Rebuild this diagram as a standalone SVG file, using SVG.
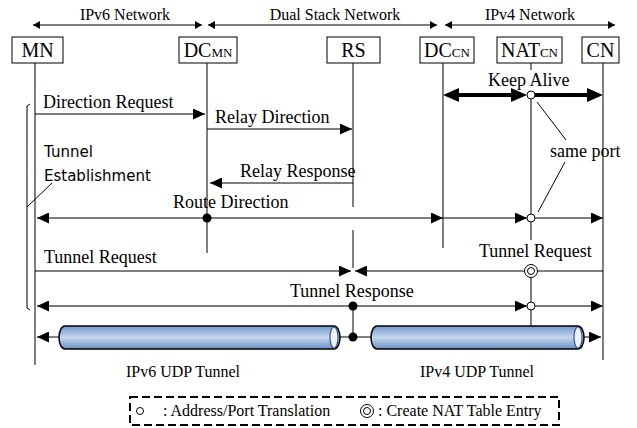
<svg xmlns="http://www.w3.org/2000/svg" width="637" height="428" viewBox="0 0 637 428">
<style>
.t{font-family:"Liberation Serif","Times New Roman",serif;fill:#000}
.h{font-size:16px}
.m{font-size:18px}
.b{font-size:20px}
.s{font-size:13px}
.g{font-family:"DejaVu Sans",sans-serif;font-size:15px;fill:#000}
.box{fill:#fff;stroke:#000;stroke-width:1}
.ln{stroke:#000;stroke-width:1;fill:none}
.msg{stroke:#000;stroke-width:1;fill:none;marker-end:url(#ah)}
.gray{stroke:#7a7a7a;stroke-width:2;fill:none;marker-end:url(#ah)}
.hd{stroke:#000;stroke-width:1;fill:none;marker-start:url(#ahs);marker-end:url(#ahs)}
.ka{stroke:#000;stroke-width:4;fill:none;marker-end:url(#ahk)}
.oc{fill:#fff;stroke:#000;stroke-width:1}
.dot{fill:#000}
.tun{fill:url(#tg);stroke:#000;stroke-width:1.5}
.cap{fill:#eef3fa;stroke:#3b4fa0;stroke-width:1.2}
</style>
<defs>
<marker id="ah" markerUnits="userSpaceOnUse" markerWidth="12" markerHeight="11" refX="12" refY="5.5" orient="auto-start-reverse"><path d="M0,0 L12,5.5 L0,11 Z" fill="#000"/></marker>
<marker id="ahs" markerUnits="userSpaceOnUse" markerWidth="7" markerHeight="8" refX="7" refY="4" orient="auto-start-reverse"><path d="M0,0 L7,4 L0,8 Z" fill="#000"/></marker>
<marker id="ahk" markerUnits="userSpaceOnUse" markerWidth="16" markerHeight="14" refX="6" refY="7" orient="auto-start-reverse"><path d="M0,0 L16,7 L0,14 Z" fill="#000"/></marker>
<linearGradient id="tg" x1="0" y1="0" x2="0" y2="1">
<stop offset="0" stop-color="#7299cb"/>
<stop offset="0.5" stop-color="#c4d6ee"/>
<stop offset="1" stop-color="#6c90c3"/>
</linearGradient>
</defs>

<g id="networks">
<line class="hd" x1="33" y1="25" x2="202" y2="25"/>
<line class="hd" x1="208" y1="25" x2="437" y2="25"/>
<line class="hd" x1="445" y1="25" x2="615" y2="25"/>
<text class="t h" x="125" y="20" text-anchor="middle">IPv6 Network</text>
<text class="t h" x="335" y="20" text-anchor="middle">Dual Stack Network</text>
<text class="t h" x="530" y="20" text-anchor="middle">IPv4 Network</text>
</g>

<g id="lifelines">
<line class="ln" x1="35" y1="63" x2="35" y2="365"/>
<line class="ln" x1="207" y1="63" x2="207" y2="253"/>
<line class="ln" x1="353" y1="63" x2="353" y2="207"/>
<line class="ln" x1="353" y1="230" x2="353" y2="268"/>
<line class="ln" x1="353" y1="306" x2="353" y2="337"/>
<line class="ln" x1="443" y1="63" x2="443" y2="248"/>
<line class="ln" x1="531" y1="63" x2="531" y2="70"/>
<line class="ln" x1="531" y1="95" x2="531" y2="240"/>
<line class="ln" x1="531" y1="264" x2="531" y2="326"/>
<line class="ln" x1="603" y1="63" x2="603" y2="360"/>
</g>

<g id="node-MN"><rect class="box" x="12" y="37" width="51" height="26"/><text class="t b" x="37.5" y="57" text-anchor="middle">MN</text></g>
<g id="node-DCMN"><rect class="box" x="179" y="37" width="58" height="26"/><text class="t b" x="208" y="57" text-anchor="middle">DC<tspan class="s">MN</tspan></text></g>
<g id="node-RS"><rect class="box" x="327" y="37" width="53" height="26"/><text class="t b" x="353.5" y="57" text-anchor="middle">RS</text></g>
<g id="node-DCCN"><rect class="box" x="420" y="37" width="54" height="26"/><text class="t b" x="447" y="57" text-anchor="middle">DC<tspan class="s">CN</tspan></text></g>
<g id="node-NATCN"><rect class="box" x="497" y="37" width="65" height="26"/><text class="t b" x="529.5" y="57" text-anchor="middle">NAT<tspan class="s">CN</tspan></text></g>
<g id="node-CN"><rect class="box" x="582" y="37" width="37" height="26"/><text class="t b" x="600.5" y="57" text-anchor="middle">CN</text></g>

<g id="connectors">
<!-- Keep Alive -->
<line class="ka" x1="453" y1="95" x2="517" y2="95" style="marker-start:url(#ahk)"/>
<line class="ka" x1="535" y1="95" x2="593" y2="95"/>
<!-- Direction Request -->
<line class="msg" x1="35" y1="114" x2="205" y2="114"/>
<!-- Relay Direction -->
<line class="msg" x1="207" y1="129" x2="352" y2="129"/>
<!-- Relay Response -->
<line class="msg" x1="353" y1="183" x2="210" y2="183"/>
<!-- Route Direction -->
<line class="msg" x1="207" y1="218" x2="37" y2="218"/>
<line class="msg" x1="207" y1="218" x2="443" y2="218"/>
<line class="msg" x1="443" y1="218" x2="527" y2="218"/>
<line class="msg" x1="535" y1="218" x2="603" y2="218"/>
<!-- Tunnel Request -->
<line class="msg" x1="35" y1="271" x2="351" y2="271"/>
<line class="msg" x1="603" y1="271" x2="355" y2="271"/>
<!-- Tunnel Response -->
<line class="gray" x1="353" y1="306" x2="37" y2="306"/>
<line class="gray" x1="353" y1="306" x2="527" y2="306"/>
<line class="gray" x1="535" y1="306" x2="603" y2="306"/>
<!-- tunnel row -->
<line class="msg" x1="59" y1="337" x2="37" y2="337"/>
<line class="ln" x1="340" y1="337" x2="371" y2="337"/>
<line class="msg" x1="584" y1="337" x2="601" y2="337"/>
<!-- same port leaders -->
<line class="ln" x1="537" y1="102" x2="566" y2="140"/>
<line class="ln" x1="565" y1="162" x2="538" y2="212"/>
<!-- bracket -->
<path class="ln" d="M30,104 L27,106 L27,308 L30,310"/>
<line class="ln" x1="27" y1="207" x2="52" y2="183"/>
<!-- points -->
<circle class="oc" cx="531" cy="95" r="4"/>
<circle class="dot" cx="207" cy="218" r="4.5"/>
<circle class="oc" cx="531" cy="218" r="4"/>
<circle class="oc" cx="531" cy="271" r="6.5"/>
<circle class="oc" cx="531" cy="271" r="3.5"/>
<circle class="dot" cx="353" cy="306" r="4.5"/>
<circle class="oc" cx="531" cy="306" r="4"/>
</g>

<g id="tunnel-ipv6">
<path class="tun" d="M65,326 H334 A6,11.5 0 0 1 334,349 H65 A6,11.5 0 0 1 65,326 Z"/>
<ellipse class="cap" cx="334" cy="337.5" rx="4" ry="10.5"/>
</g>
<g id="tunnel-ipv4">
<path class="tun" d="M377,326 H578 A6,11.5 0 0 1 578,349 H377 A6,11.5 0 0 1 377,326 Z"/>
<ellipse class="cap" cx="578" cy="337.5" rx="4" ry="10.5"/>
</g>
<circle class="dot" cx="353" cy="337" r="4.5"/>

<g id="labels">
<text class="t m" x="488" y="86">Keep Alive</text>
<text class="t m" x="43" y="108">Direction Request</text>
<text class="t m" x="215" y="123">Relay Direction</text>
<text class="t m" x="550" y="157">same port</text>
<text class="g" x="44" y="157">Tunnel</text>
<text class="g" x="44" y="181">Establishment</text>
<text class="t m" x="240" y="177">Relay Response</text>
<text class="t m" x="173" y="208">Route Direction</text>
<text class="t m" x="44" y="263">Tunnel Request</text>
<text class="t m" x="479" y="257">Tunnel Request</text>
<text class="t m" x="290" y="297">Tunnel Response</text>
<text class="t h" x="183" y="377" text-anchor="middle">IPv6 UDP Tunnel</text>
<text class="t h" x="477" y="377" text-anchor="middle">IPv4 UDP Tunnel</text>
</g>

<g id="legend">
<rect x="130" y="397" width="429" height="28" fill="none" stroke="#000" stroke-width="2" stroke-dasharray="8 4"/>
<circle class="oc" cx="140" cy="411" r="3.5"/>
<text class="t h" x="163" y="416">: Address/Port Translation</text>
<circle class="oc" cx="367" cy="411" r="6.5"/>
<circle class="oc" cx="367" cy="411" r="3.5"/>
<text class="t h" x="378" y="416">: Create NAT Table Entry</text>
</g>
</svg>
